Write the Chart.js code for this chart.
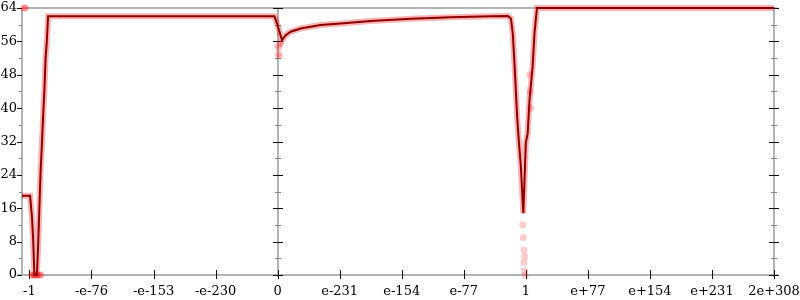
<!DOCTYPE html>
<html>
<head>
<meta charset="utf-8">
<script src="https://cdn.jsdelivr.net/npm/chart.js@4/dist/chart.umd.min.js"></script>
<style>
  html, body { margin: 0; padding: 0; background: #fff; }
  canvas { display: block; }
</style>
</head>
<body>
<canvas id="errChart" width="800" height="300"></canvas>
<script>
// x is an ordinal float axis: -1 -> -4, 0 -> 0, 1 -> 4, 2e+308 -> 8
const xTickPos = [-4, -3, -2, -1, 0, 1, 2, 3, 4, 5, 6, 7, 8];
const xTickLabels = ['-1', '-e-76', '-e-153', '-e-230', '0', 'e-231', 'e-154', 'e-77', '1', 'e+77', 'e+154', 'e+231', '2e+308'];
const yMajor = [0, 8, 16, 24, 32, 40, 48, 56, 64];
const yMinor = [4, 12, 20, 28, 36, 44, 52, 60];

// average error line (bits)
const lineX = [-4.12, -3.99, -3.96, -3.94, -3.92, -3.88, -3.86, -3.84, -3.82, -3.80, -3.78, -3.76, -3.74, -3.72, -3.70,
  -0.05, -0.01, 0.07, 0.13, 0.21, 0.37, 0.69, 1.02, 1.5, 2.15, 2.79, 3.44, 3.71,
  3.76, 3.79, 3.82, 3.86, 3.89, 3.92, 3.96, 4.00, 4.03, 4.06, 4.11, 4.14, 4.18, 8];
const lineY = [19, 19, 14, 8.5, 0, 0, 7, 16, 25, 31, 38, 44, 52, 56, 62,
  62, 60.3, 56.3, 57.5, 58.3, 59.1, 59.9, 60.3, 60.9, 61.4, 61.8, 62, 62.1,
  61.5, 57.9, 49.9, 37.9, 31.6, 26, 14.8, 31.6, 34, 42, 50, 58, 64, 64];

// individual samples that stand off the line
const sampleX = [-4.10, -4.08, -4.06, -3.97, -3.95, -3.93, -3.91, -3.89, -3.87, -3.85, -3.83, -3.81,
  0.0, 0.01, 0.02, 0.03, 0.05, 3.95, 3.96, 3.97, 3.97, 3.98, 3.98, 3.99, 4.06, 4.07, 4.08];
const sampleY = [64, 64, 64, 0, 0, 0, 0, 0, 0, 0, 0, 0,
  55, 53, 54.5, 52.5, 55.5, 12, 9, 6, 3, 4.5, 1, 0, 48, 44, 40];

const linePts = lineX.map((x, i) => ({ x, y: lineY[i] }));
const samplePts = sampleX.map((x, i) => ({ x, y: sampleY[i] }));

const FONT = { family: "'DejaVu Serif', 'Liberation Serif', serif", size: 13 };

// axis frame, middle and right axes, tick marks
const axesPlugin = {
  id: 'axesPlugin',
  beforeDatasetsDraw(chart) {
    const { ctx, chartArea: a, scales: { x, y } } = chart;
    const xl = a.left, xm = Math.round(x.getPixelForValue(0)), xr = a.right;
    ctx.save();
    ctx.strokeStyle = '#b4b4b4';
    ctx.lineWidth = 2;
    ctx.beginPath();
    ctx.moveTo(xl, a.top); ctx.lineTo(xr + 3, a.top);
    ctx.moveTo(xl - 4, a.bottom); ctx.lineTo(xr + 4, a.bottom);
    ctx.moveTo(xl, a.top); ctx.lineTo(xl, a.bottom);
    ctx.moveTo(xm, a.top); ctx.lineTo(xm, a.bottom + 2);
    ctx.moveTo(xr, a.top); ctx.lineTo(xr, a.bottom + 2);
    ctx.stroke();

    ctx.lineWidth = 1;
    // minor y ticks
    ctx.strokeStyle = '#888';
    ctx.beginPath();
    yMinor.forEach(v => {
      const py = Math.round(y.getPixelForValue(v)) + 0.5;
      ctx.moveTo(xl - 3, py); ctx.lineTo(xl, py);
      ctx.moveTo(xm - 3, py); ctx.lineTo(xm + 3, py);
      ctx.moveTo(xr - 3, py); ctx.lineTo(xr + 3, py);
    });
    ctx.stroke();
    // major y ticks
    ctx.strokeStyle = '#111';
    ctx.beginPath();
    yMajor.forEach(v => {
      const py = Math.round(y.getPixelForValue(v)) + 0.5;
      ctx.moveTo(xl - 5, py); ctx.lineTo(xl, py);
      ctx.moveTo(xm - 5, py); ctx.lineTo(xm + 5, py);
      ctx.moveTo(xr - 5, py); ctx.lineTo(xr + 5, py);
    });
    // x ticks
    xTickPos.forEach(v => {
      const px = Math.round(x.getPixelForValue(v)) + 0.5;
      ctx.moveTo(px, a.bottom - 5); ctx.lineTo(px, a.bottom + 4);
    });
    ctx.stroke();
    ctx.restore();
  }
};

new Chart(document.getElementById('errChart').getContext('2d'), {
  type: 'line',
  data: {
    datasets: [
      {
        type: 'scatter',
        data: samplePts,
        showLine: false,
        pointRadius: 3.5,
        pointBorderWidth: 0,
        backgroundColor: 'rgba(255, 0, 0, 0.2)',
        clip: false,
        order: 3
      },
      {
        data: linePts,
        borderColor: 'rgba(255, 0, 0, 0.3)',
        borderWidth: 6,
        pointRadius: 0,
        tension: 0,
        clip: false,
        order: 2
      },
      {
        data: linePts,
        borderColor: '#8b0000',
        borderWidth: 2,
        pointRadius: 0,
        tension: 0,
        clip: false,
        order: 1
      }
    ]
  },
  options: {
    responsive: false,
    devicePixelRatio: 1,
    animation: false,
    events: [],
    layout: { padding: { top: 8, right: 26, left: 0, bottom: 0 } },
    plugins: { legend: { display: false }, tooltip: { enabled: false } },
    scales: {
      x: {
        type: 'linear',
        min: -4.12,
        max: 8,
        grid: { display: false, drawTicks: false },
        border: { display: false },
        afterBuildTicks: scale => { scale.ticks = xTickPos.map(v => ({ value: v })); },
        afterFit: scale => {
          scale.height = 25;
          scale.paddingLeft = 0;
          scale.paddingRight = 0;
        },
        ticks: {
          autoSkip: false,
          maxRotation: 0,
          padding: 9,
          color: '#000',
          font: FONT,
          callback: (v, i) => xTickLabels[i]
        }
      },
      y: {
        min: 0,
        max: 64,
        grid: { display: false, drawTicks: false },
        border: { display: false },
        afterBuildTicks: scale => { scale.ticks = yMajor.map(v => ({ value: v })); },
        afterFit: scale => {
          scale.width = 22;
          scale.paddingTop = 0;
          scale.paddingBottom = 0;
        },
        ticks: { padding: 5, color: '#000', font: FONT }
      }
    }
  },
  plugins: [axesPlugin]
});
</script>
</body>
</html>
